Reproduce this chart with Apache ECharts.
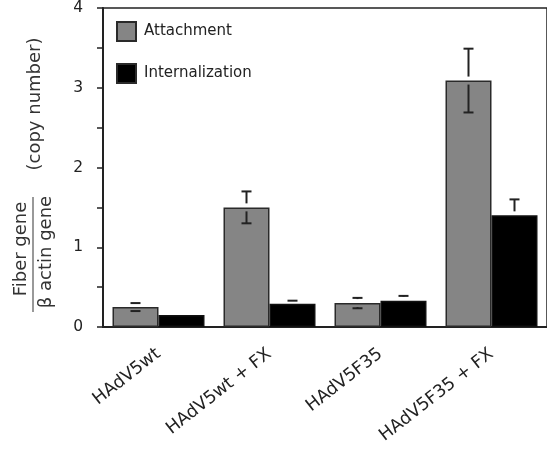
<!DOCTYPE html>
<html>
<head>
<meta charset="utf-8">
<script src="https://cdn.jsdelivr.net/npm/echarts@6/dist/echarts.min.js"></script>
<style>
html,body{margin:0;padding:0;background:#fff;}
#chart{width:547px;height:449px;}
</style>
</head>
<body>
<div id="chart"></div>
<script>
// ---- data ----
var categories = ['HAdV5wt', 'HAdV5wt + FX', 'HAdV5F35', 'HAdV5F35 + FX'];
var attachment = [0.25, 1.50, 0.30, 3.09];
var attachmentErr = [0.05, 0.20, 0.065, 0.40];
var internalization = [0.15, 0.29, 0.33, 1.40];
var internalizationErr = [0, 0.04, 0.06, 0.20];
var yTickValues = [0, 1, 2, 3, 4];

var BW = 46;
var FONT = 'DejaVu Sans';

function errData(vals, errs) {
  return vals.map(function (v, i) { return [i, v, errs[i]]; });
}

function makeErr(sign, drawLower) {
  return function (params, api) {
    var i = api.value(0), v = api.value(1), e = api.value(2);
    if (!e) return null;
    var c = api.coord([i, v]);
    var x = c[0] + sign * BW / 2;
    var yTop = api.coord([i, v + e])[1];
    var yBot = api.coord([i, v - e])[1];
    var yBar = c[1];
    var gap = 4, cw = 5;
    var st = { stroke: '#222', lineWidth: 2 };
    var ch = [];
    ch.push({ type: 'line', shape: { x1: x - cw, y1: yTop, x2: x + cw, y2: yTop }, style: st });
    if (yBar - gap > yTop) ch.push({ type: 'line', shape: { x1: x, y1: yTop, x2: x, y2: yBar - gap }, style: st });
    if (drawLower) {
      ch.push({ type: 'line', shape: { x1: x - cw, y1: yBot, x2: x + cw, y2: yBot }, style: st });
      if (yBot > yBar + gap) ch.push({ type: 'line', shape: { x1: x, y1: yBar + gap, x2: x, y2: yBot }, style: st });
    }
    return { type: 'group', children: ch };
  };
}

var chart = echarts.init(document.getElementById('chart'), null, { renderer: 'canvas' });
chart.setOption({
  animation: false,
  backgroundColor: '#fff',
  textStyle: { fontFamily: FONT },
  grid: {
    left: 103, right: -2, top: 7, bottom: 122,
    show: true, borderColor: '#222', borderWidth: 1.5, backgroundColor: 'transparent'
  },
  legend: {
    orient: 'vertical', left: 116, top: 21, padding: 0,
    itemWidth: 19, itemHeight: 19, itemGap: 21,
    icon: 'rect',
    itemStyle: { borderColor: '#2a2a2a', borderWidth: 2 },
    textStyle: { fontFamily: FONT, fontSize: 15, color: '#222', padding: [7, 0, 0, 3] },
    data: ['Attachment', 'Internalization']
  },
  xAxis: {
    type: 'category',
    data: categories,
    axisLine: { lineStyle: { color: '#222', width: 2 } },
    axisTick: { alignWithLabel: true, length: 7, lineStyle: { color: '#222', width: 1.5 } },
    axisLabel: { rotate: 38, margin: 25, fontFamily: FONT, fontSize: 17.5, color: '#222', interval: 0 },
    splitLine: { show: false }
  },
  yAxis: {
    type: 'value', min: 0, max: 4, interval: 0.5,
    axisLine: { show: true, lineStyle: { color: '#222', width: 2 } },
    axisTick: { show: true, length: 6, lineStyle: { color: '#222', width: 1.5 } },
    axisLabel: {
      margin: 20, fontFamily: FONT, fontSize: 15.5, color: '#222',
      formatter: function (v) { return yTickValues.indexOf(v) >= 0 ? String(v) : ''; }
    },
    splitLine: { show: false }
  },
  series: [
    {
      name: 'Attachment', type: 'bar', data: attachment, barWidth: BW, barGap: '0%',
      itemStyle: { color: '#858585', borderColor: '#2a2a2a', borderWidth: 1.5 }
    },
    {
      name: 'Internalization', type: 'bar', data: internalization, barWidth: BW, barGap: '0%',
      itemStyle: { color: '#000', borderColor: '#111', borderWidth: 1.5 }
    },
    {
      type: 'custom', name: 'attErr', renderItem: makeErr(-1, true),
      data: errData(attachment, attachmentErr), encode: { x: 0, y: 1 }, z: 10, silent: true
    },
    {
      type: 'custom', name: 'intErr', renderItem: makeErr(1, false),
      data: errData(internalization, internalizationErr), encode: { x: 0, y: 1 }, z: 10, silent: true
    }
  ],
  graphic: [
    { type: 'text', x: 35, y: 104, rotation: Math.PI / 2,
      style: { text: '(copy number)', fontFamily: FONT, fontSize: 18, fill: '#333', align: 'center', verticalAlign: 'middle' } },
    { type: 'text', x: 21, y: 249, rotation: Math.PI / 2,
      style: { text: 'Fiber gene', fontFamily: FONT, fontSize: 18, fill: '#333', align: 'center', verticalAlign: 'middle' } },
    { type: 'line', shape: { x1: 33, y1: 197, x2: 33, y2: 312 }, style: { stroke: '#777', lineWidth: 1.5 } },
    { type: 'text', x: 46, y: 252, rotation: Math.PI / 2,
      style: { text: 'β actin gene', fontFamily: FONT, fontSize: 18, fill: '#333', align: 'center', verticalAlign: 'middle' } }
  ]
});
</script>
</body>
</html>
